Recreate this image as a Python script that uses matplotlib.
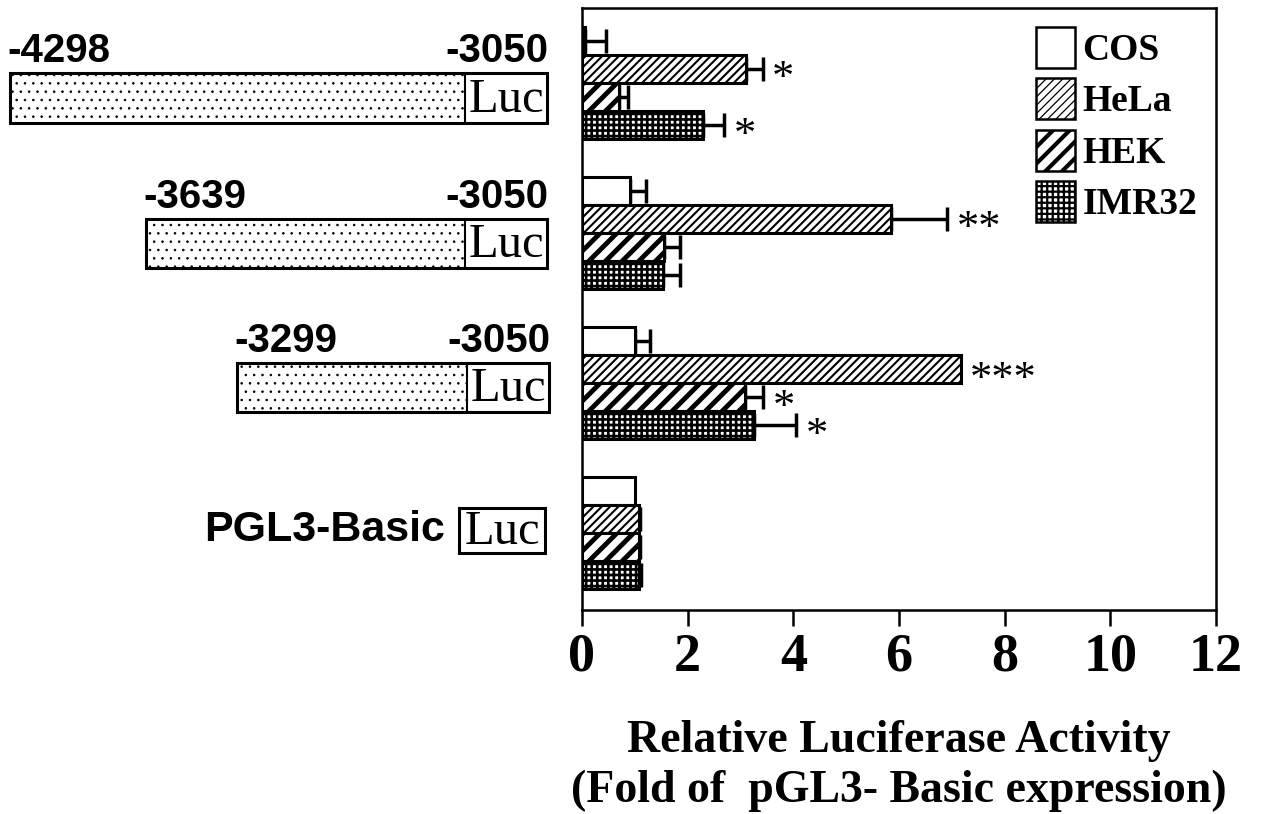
import numpy as np
import matplotlib
import matplotlib.pyplot as plt
from matplotlib.patches import Rectangle, Patch

# %% data

constructs = ['-4298', '-3639', '-3299', 'PGL3-Basic']
cells = ['COS', 'HeLa', 'HEK', 'IMR32']

# fold activity, one list per cell line, constructs in the order above
cos_val = [0.06, 0.91, 1.00, 1.00]
hela_val = [3.10, 5.85, 7.17, 1.07]
hek_val = [0.70, 1.55, 3.09, 1.07]
imr_val = [2.29, 1.53, 3.26, 1.08]

cos_err = [0.39, 0.30, 0.29, 0.00]
hela_err = [0.32, 1.06, 0.00, 0.03]
hek_err = [0.17, 0.31, 0.34, 0.03]
imr_err = [0.40, 0.33, 0.79, 0.03]

cos_sig = ['', '', '', '']
hela_sig = ['*', '**', '***', '']
hek_sig = ['', '', '*', '']
imr_sig = ['*', '', '*', '']

promoter_end = '-3050'

# %% figure

W, H = 1274, 814
fig = plt.figure(figsize=(W / 100, H / 100), dpi=100)
plt.rcParams['hatch.color'] = 'black'

serif = 'Liberation Serif'
sans = 'Liberation Sans'

ax_rect = [582 / W, (H - 610) / H, 634 / W, 602 / H]
ax = fig.add_axes(ax_rect)

ypos = np.arange(len(constructs))[::-1]  # first construct on top
bh = 0.187

vals = [cos_val, hela_val, hek_val, imr_val]
errs = [cos_err, hela_err, hek_err, imr_err]
sigs = [cos_sig, hela_sig, hek_sig, imr_sig]
hatches = [None, '////', '//', '+++']
hlw = [1.0, 1.5, 3.5, 1.9]
leg_hlw = [1.0, 0.9, 3.0, 1.6]
offsets = [1.5, 0.5, -0.5, -1.5]

def set_hlw(p, w):
    plt.rcParams['hatch.linewidth'] = w
    if hasattr(p, 'set_hatch_linewidth'):
        p.set_hatch_linewidth(w)

handles = []
for k in range(4):
    plt.rcParams['hatch.linewidth'] = hlw[k]
    y = ypos + offsets[k] * bh
    bars = ax.barh(y, vals[k], height=bh, color='white', edgecolor='black',
                   linewidth=2.2, hatch=hatches[k], zorder=3)
    for b in bars:
        set_hlw(b, hlw[k])
    e = np.array(errs[k])
    m = e > 0
    ax.errorbar(np.array(vals[k])[m], y[m], xerr=[np.zeros(m.sum()), e[m]],
                fmt='none', ecolor='black', elinewidth=2.5, capsize=8.5,
                capthick=2.5, zorder=2)
    for i in range(len(constructs)):
        if sigs[k][i]:
            ax.text(vals[k][i] + errs[k][i] + 0.18, y[i] - 0.07, sigs[k][i],
                    fontsize=32, family=serif, ha='left', va='center')
    p = Patch(facecolor='white', edgecolor='black', linewidth=1.8,
              hatch=hatches[k], label=cells[k])
    handles.append(p)

ax.set_xlim(0, 12)
ax.set_ylim(-0.513, 3.5)
ax.set_xticks(np.arange(0, 13, 2))
ax.set_yticks([])
for s in ax.spines.values():
    s.set_linewidth(1.8)
ax.tick_params(axis='x', direction='out', length=11.5, width=1.8, pad=5)
for t in ax.get_xticklabels():
    t.set_fontfamily(serif)
    t.set_fontweight('bold')
    t.set_fontsize(39)
ax.set_xlabel('Relative Luciferase Activity\n(Fold of  pGL3- Basic expression)',
              fontsize=33, family=serif, fontweight='bold', labelpad=27,
              linespacing=1.22)

leg = ax.legend(handles=handles, loc='upper right', frameon=False,
                prop={'family': serif, 'weight': 'bold', 'size': 27},
                handlelength=1.05, handleheight=1.3, handletextpad=0.2,
                labelspacing=0.28, borderaxespad=0.2, borderpad=0.3)
for lp, w in zip(leg.get_patches(), leg_hlw):
    set_hlw(lp, w)

# %% promoter constructs on the left

axl = fig.add_axes([0, ax_rect[1], 560 / W, ax_rect[3]])
axl.set_xlim(0, 560)
axl.set_ylim(-0.513, 3.5)
axl.axis('off')

box_left = [10, 146, 237]
luc_left = [465, 465, 467]
box_right = [547, 547, 549]
box_y = [2.9, 1.93, 0.97, 0.02]
box_h = 0.33

for i in range(3):
    y0 = box_y[i] - box_h / 2
    dots = Rectangle((box_left[i], y0), luc_left[i] - box_left[i], box_h,
                     facecolor='white', edgecolor='black', hatch='..',
                     linewidth=0, zorder=1)
    set_hlw(dots, 0.6)
    axl.add_patch(dots)
    axl.add_patch(Rectangle((box_left[i], y0), box_right[i] - box_left[i], box_h,
                            facecolor='none', edgecolor='black', linewidth=2.2,
                            zorder=3))
    axl.plot([luc_left[i], luc_left[i]], [y0, y0 + box_h], color='black',
             lw=1.5, zorder=3)
    axl.text((luc_left[i] + box_right[i]) / 2, box_y[i] - 0.01, 'Luc',
             family=serif, fontsize=35, ha='center', va='center')
    axl.text(box_left[i] - 3, y0 + box_h + 0.02, constructs[i], family=sans,
             fontweight='bold', fontsize=29, ha='left', va='bottom')
    axl.text(box_right[i] + 1, y0 + box_h + 0.02, promoter_end, family=sans,
             fontweight='bold', fontsize=29, ha='right', va='bottom')

# empty vector
y0 = box_y[3] - 0.3 / 2
axl.add_patch(Rectangle((459, y0), 86, 0.3, facecolor='white',
                        edgecolor='black', linewidth=2.2))
axl.text(502, box_y[3] - 0.01, 'Luc', family=serif, fontsize=35,
         ha='center', va='center')
axl.text(445, box_y[3], constructs[3], family=sans, fontweight='bold',
         fontsize=31, ha='right', va='center')

plt.savefig('out.png', dpi=100)
plt.close()
